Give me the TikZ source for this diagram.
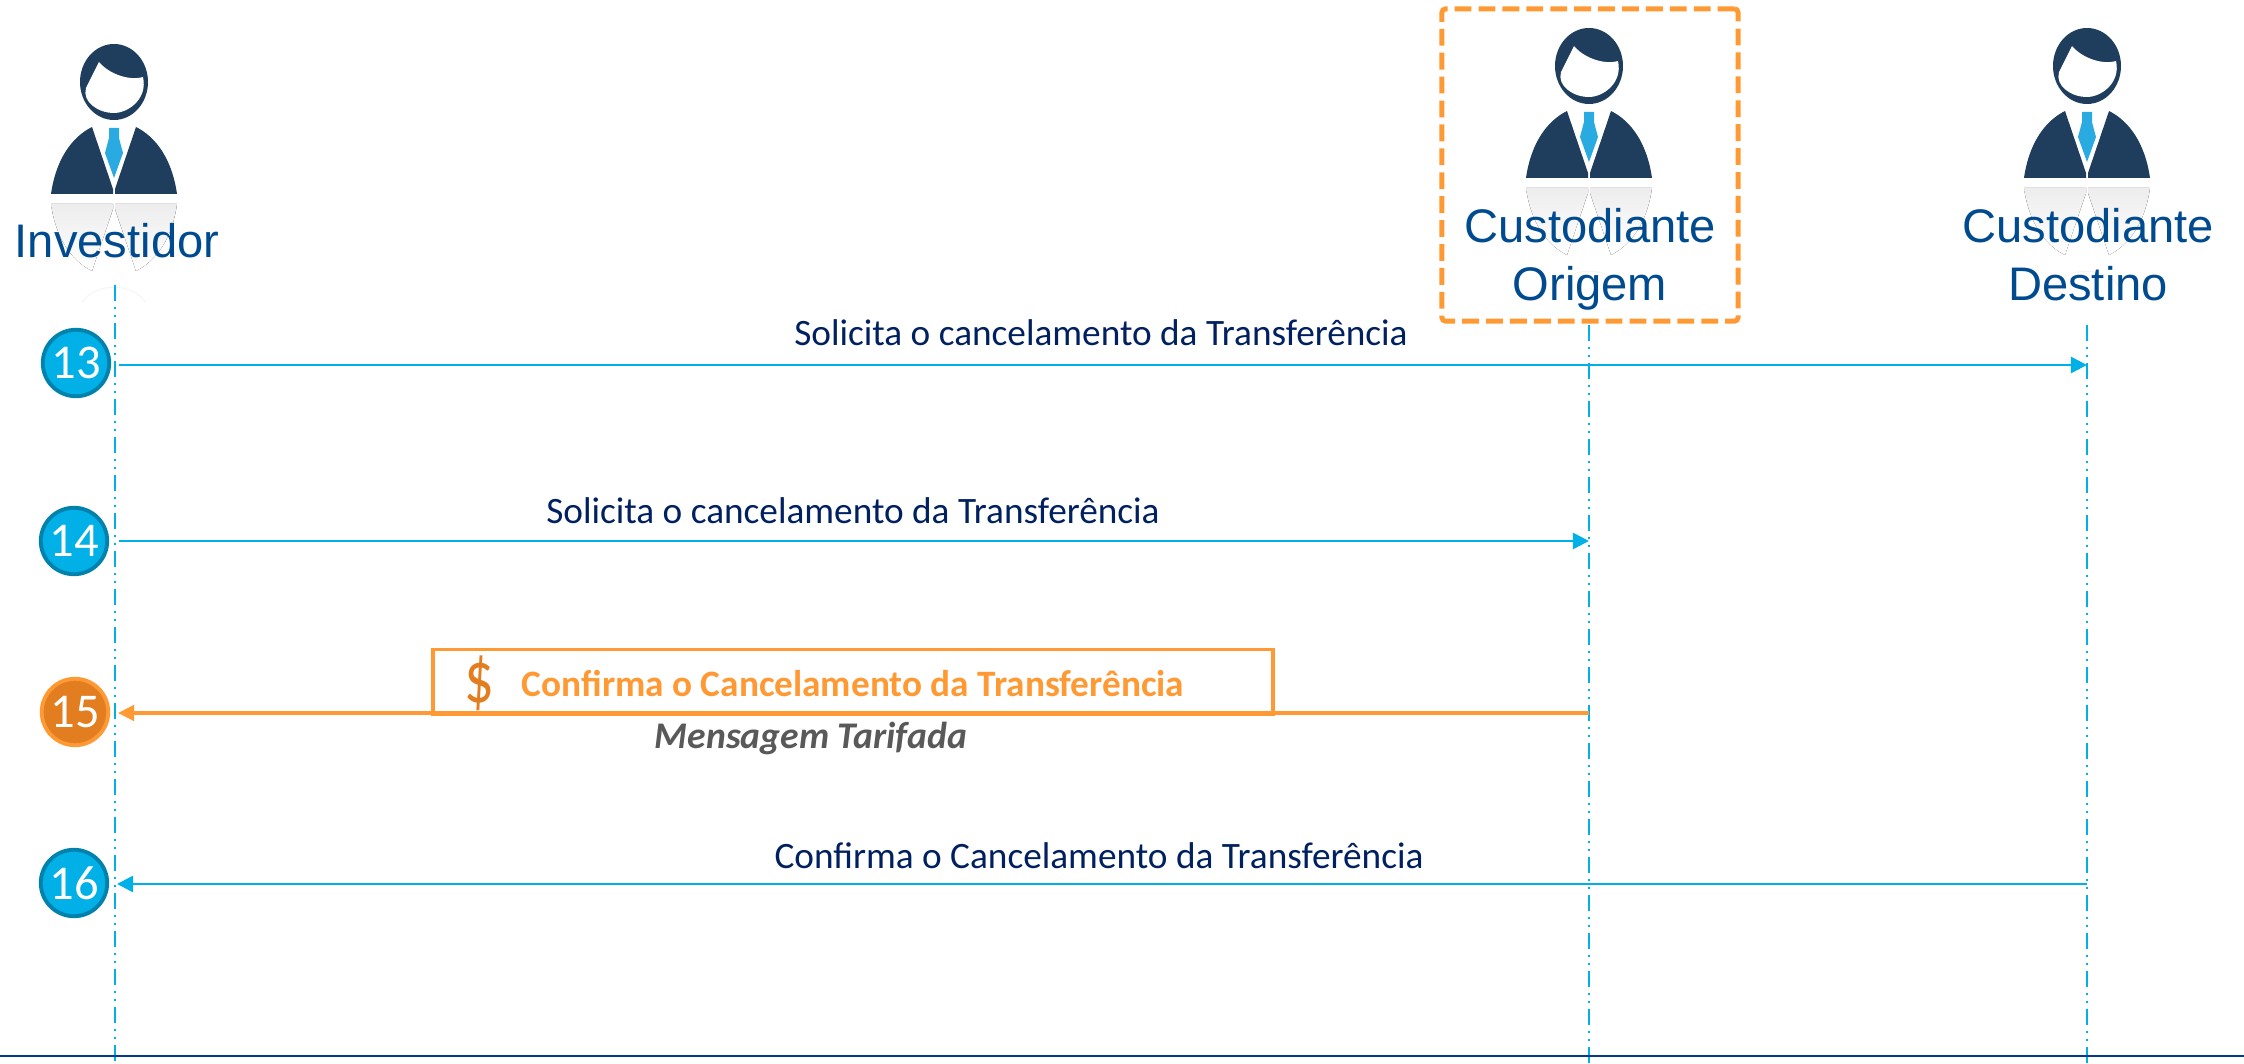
\documentclass[tikz,border=0pt]{standalone}
\usepackage{fontspec}
\setmainfont{Liberation Sans}
\newfontfamily\carlito{Carlito}
\usetikzlibrary{arrows.meta}
\usetikzlibrary{positioning}
\definecolor{suit}{HTML}{1F3D5C}
\definecolor{tie}{HTML}{29ABE2}
\definecolor{lifeblue}{HTML}{00B0E6}
\definecolor{ringblue}{HTML}{0082AD}
\definecolor{orangeline}{HTML}{FF9933}
\definecolor{orangefill}{HTML}{E37E20}
\definecolor{namecolor}{HTML}{004A8F}
\definecolor{msgcolor}{HTML}{002060}
\definecolor{baseline}{HTML}{003A8C}
\tikzset{
  lifeline/.style={draw=lifeblue, line width=0.55pt, dash pattern=on 4.6pt off 1.7pt on 0.55pt off 1.7pt on 0.55pt off 1.7pt},
  msgblue/.style={draw=lifeblue, line width=0.75pt, -{Triangle[length=4.6pt,width=4.6pt]}},
  msgorange/.style={draw=orangeline, line width=1pt, -{Triangle[length=4.6pt,width=4.4pt]}},
  namelabel/.style={text=namecolor, align=center, inner sep=0pt, font=\fontsize{13.4}{16.5}\selectfont},
  msglabel/.style={text=msgcolor, inner sep=0pt, font=\carlito\fontsize{10.6}{12}\selectfont},
  stepblue/.style={circle, fill=lifeblue, draw=ringblue, line width=1.1pt, minimum size=18.9pt, inner sep=0pt, text=white, font=\carlito\fontsize{13.8}{15}\selectfont},
  steporange/.style={stepblue, fill=orangefill, draw=orangeline},
  mirrorfade/.style={top color=black!7, middle color=black!2, bottom color=white},
  person/.pic={
    %reflection
    \fill[mirrorfade] (-63,10) .. controls (-58,45) and (-42,67) .. (-22,77) -- (-1,15) -- (-1,10) -- cycle;
    \fill[mirrorfade] (63,10) .. controls (58,45) and (42,67) .. (22,77) -- (1,15) -- (1,10) -- cycle;
    \draw[black!4, line width=0.3pt] (-32,109) .. controls (-20,88) and (20,88) .. (32,109);
    %head
    \fill[suit] (0,-112) ellipse (34 and 38);
    \fill[white] (-28,-106) -- (-15,-132) .. controls (-5,-120) and (15,-113) .. (29,-117) .. controls (34,-95) and (14,-81) .. (0,-81) .. controls (-16,-81) and (-32,-92) .. (-28,-106) -- cycle;
    %suit
    \fill[suit] (-63,0) .. controls (-58,-35) and (-42,-57) .. (-22,-67) -- (-1,-5) -- (-1,0) -- cycle;
    \fill[suit] (63,0) .. controls (58,-35) and (42,-57) .. (22,-67) -- (1,-5) -- (1,0) -- cycle;
    %tie
    \fill[tie] (-5,-66) -- (5,-66) -- (5,-56) -- (9,-41) -- (0,-16) -- (-9,-41) -- (-5,-56) -- cycle;
  }
}

\begin{document}
\begin{tikzpicture}[x=0.01cm, y=-0.01cm]
        \useasboundingbox (0,0) rectangle (2244,1064);

        %persons
        \pic at (114,194) {person};
        \pic at (1589,178) {person};
        \pic at (2087,178) {person};

        \node[namelabel] (inv) at (117,241) {Investidor};
        \node[namelabel] (ori) at (1590,259) {Custodiante\\Origem};
        \node[namelabel] (des) at (2088,255) {Custodiante\\Destino};
        \node[draw=orangeline, line width=1.4pt, dash pattern=on 4.8pt off 2pt, rounded corners=1pt, minimum width=84.2pt, minimum height=88.8pt, inner sep=0pt] (oribox) at (1590,165) {};

        %lifelines
        \coordinate (invtop) at (115,285);
        \coordinate (invend) at (115,1064);
        \coordinate (oritop) at (1589,325);
        \coordinate (oriend) at (1589,1064);
        \coordinate (destop) at (2087,325);
        \coordinate (desend) at (2087,1064);
        \draw[lifeline] (invtop) -- (invend);
        \draw[lifeline] (oritop) -- (oriend);
        \draw[lifeline] (destop) -- (desend);

        %steps
        \node[stepblue] (s13) at (76,363) {13};
        \node[stepblue] (s14) at (74,541) {14};
        \node[steporange] (s15) at (75,712) {15};
        \node[stepblue] (s16) at (74,883) {16};

        %messages
        \coordinate (m13a) at (119,365);
        \coordinate (m13b) at (2087,365);
        \coordinate (m14a) at (119,541);
        \coordinate (m14b) at (1589,541);
        \coordinate (m15a) at (1589,713);
        \coordinate (m15b) at (118,713);
        \coordinate (m16a) at (2087,884);
        \coordinate (m16b) at (117,884);
        \draw[msgblue] (m13a) -- (m13b);
        \draw[msgblue] (m14a) -- (m14b);
        \draw[msgorange] (m15a) -- (m15b);
        \draw[msgblue] (m16a) -- (m16b);

        \node[msglabel] (t13) at (1101,333) {Solicita o cancelamento da Transferência};
        \node[msglabel] (t14) at (853,511) {Solicita o cancelamento da Transferência};
        \node[msglabel] (t16) at (1099,856) {Confirma o Cancelamento da Transferência};

        %charged message
        \node[draw=orangeline, line width=1pt, minimum width=239pt, minimum height=18.5pt, inner sep=0pt] (box15) at (853,682) {};
        \node[text=orangefill, inner sep=0pt, xscale=0.8, font=\carlito\fontsize{21}{23}\selectfont] (dollar) at (479,683) {\$};
        \node[text=orangeline, inner sep=0pt, font=\carlito\bfseries\fontsize{10.6}{12}\selectfont] (t15) at (853,684) {Confirma o Cancelamento da Transferência};
        \node[text=black!65, inner sep=0pt, font=\carlito\bfseries\itshape\fontsize{10.7}{12}\selectfont] (tarifa) at (811,738) {Mensagem Tarifada};

        %bottom line
        \coordinate (basea) at (0,1056);
        \coordinate (baseb) at (2244,1056);
        \draw[draw=baseline, line width=0.4pt] (basea) -- (baseb);
\end{tikzpicture}
\end{document}
